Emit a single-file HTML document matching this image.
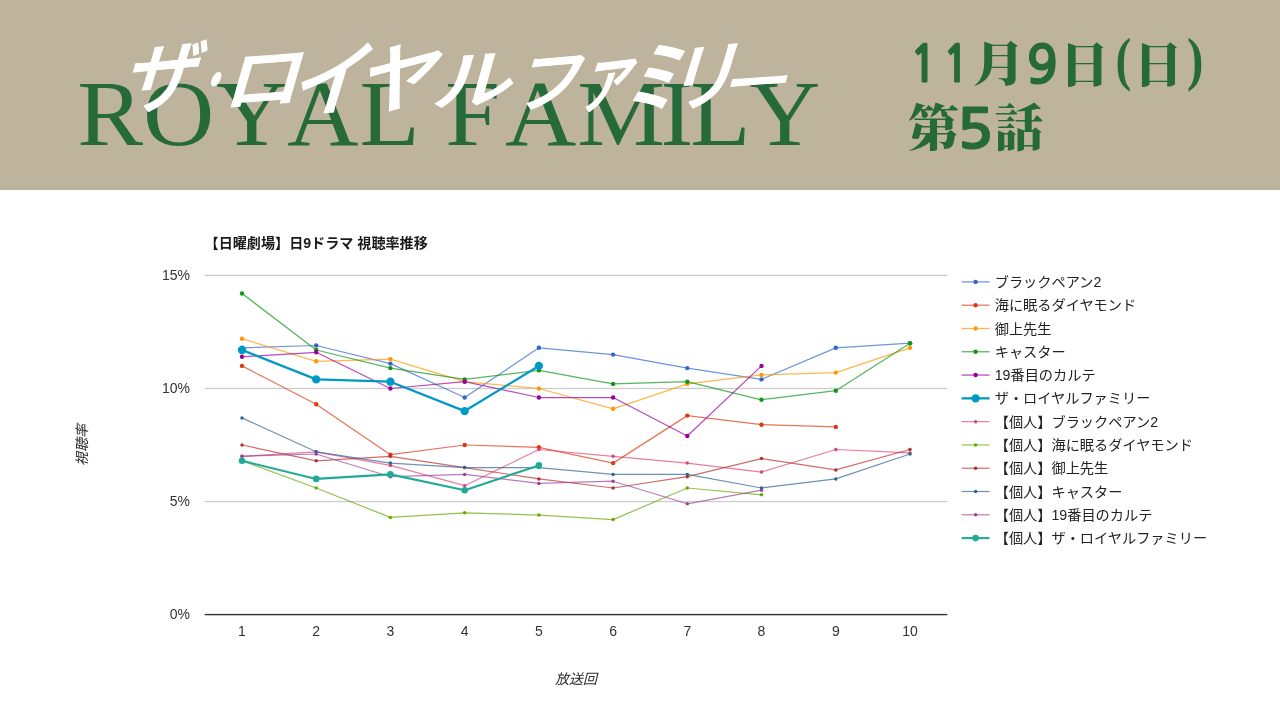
<!DOCTYPE html>
<html lang="ja">
<head>
<meta charset="utf-8">
<title>ザ・ロイヤルファミリー 第5話 視聴率推移</title>
<style>
html,body{margin:0;padding:0;}
body{width:1280px;height:720px;background:#ffffff;position:relative;overflow:hidden;font-family:"Liberation Sans","Noto Sans CJK JP",sans-serif;}
.hdr{position:absolute;left:0;top:0;width:1280px;height:190px;background:#beb49e;}
.head{position:absolute;left:0;top:0;}
.royal{font-family:"Liberation Serif",serif;font-size:94px;fill:#256a38;font-kerning:none;}
.kata{font-family:"Liberation Sans","Noto Sans CJK JP",sans-serif;font-weight:500;font-size:64px;fill:#ffffff;stroke:#ffffff;stroke-width:1px;stroke-linejoin:round;}
.date{fill:#256a38;}
.kj{font-family:"Liberation Serif","Noto Serif CJK SC",serif;font-weight:900;}
.dg{font-family:"NanumGothic","Liberation Sans",sans-serif;font-weight:700;stroke:#256a38;stroke-width:1px;stroke-linejoin:round;}
.pr{font-family:"Liberation Serif",serif;font-weight:700;}
.chart{position:absolute;left:0;top:0;}
.chart text{font-family:"Liberation Sans","Noto Sans CJK JP",sans-serif;}
.ttl{font-size:14.1px;font-weight:700;fill:#1a1a1a;}
.ax{font-size:14px;fill:#333333;}
.axt{font-size:14px;font-style:italic;fill:#2a2a2a;}
.lg{font-size:14.2px;fill:#222222;}
</style>
</head>
<body>
<div class="hdr"></div>
<svg class="head" width="1280" height="190" viewBox="0 0 1280 190">
<text class="royal" transform="scale(1.05 1)" x="73.49 136.24 205.61 273.47 342.30 404.76 424.06 480.99 549.68 628.98 657.39 713.23" y="144.8">ROYAL FAMILY</text>
<text class="kata" aria-label="ザ・ロイヤルファミリー" transform="translate(0 108) skewX(-21)"><tspan x="119.2" y="1.0" font-size="78.9" textLength="72.7" lengthAdjust="spacingAndGlyphs" rotate="-5">ザ</tspan><tspan x="189.0" y="-4.2" font-size="58.1" textLength="35.1" lengthAdjust="spacingAndGlyphs" rotate="-5">・</tspan><tspan x="220.4" y="-0.9" font-size="70.6" textLength="76.7" lengthAdjust="spacingAndGlyphs" rotate="-5">ロ</tspan><tspan x="289.1" y="5.3" font-size="81.5" textLength="75.2" lengthAdjust="spacingAndGlyphs" rotate="-5">イ</tspan><tspan x="354.7" y="2.1" font-size="78.3" textLength="77.1" lengthAdjust="spacingAndGlyphs" rotate="-5">ヤ</tspan><tspan x="429.7" y="-2.0" font-size="64.7" textLength="78.7" lengthAdjust="spacingAndGlyphs" rotate="-5">ル</tspan><tspan x="510.9" y="0.9" font-size="68.5" textLength="67.3" lengthAdjust="spacingAndGlyphs" rotate="-5">フ</tspan><tspan x="573.9" y="-0.7" font-size="77.3" textLength="54.8" lengthAdjust="spacingAndGlyphs" rotate="-5">ァ</tspan><tspan x="623.3" y="3.0" font-size="82.7" textLength="51.7" lengthAdjust="spacingAndGlyphs" rotate="-5">ミ</tspan><tspan x="662.4" y="-0.8" font-size="76.5" textLength="69.9" lengthAdjust="spacingAndGlyphs" rotate="-5">リ</tspan><tspan x="718.0" y="-3.0" font-size="56.4" textLength="65.6" lengthAdjust="spacingAndGlyphs" rotate="-5">ー</tspan></text>
<text class="date" aria-label="11月9日(日)"><tspan class="dg" x="909.6" y="81.6" font-size="50.0" textLength="28.0" lengthAdjust="spacingAndGlyphs">1</tspan><tspan class="dg" x="942.5" y="81.6" font-size="50.0" textLength="27.0" lengthAdjust="spacingAndGlyphs">1</tspan><tspan class="kj" x="972.3" y="80.8" font-size="47.9" textLength="53.8" lengthAdjust="spacingAndGlyphs">月</tspan><tspan class="dg" x="1026.6" y="83.0" font-size="52.4" textLength="31.5" lengthAdjust="spacingAndGlyphs">9</tspan><tspan class="kj" x="1059.2" y="81.8" font-size="47.6" textLength="50.0" lengthAdjust="spacingAndGlyphs">日</tspan><tspan class="pr" x="1115.5" y="78.5" font-size="59.4" textLength="15.7" lengthAdjust="spacingAndGlyphs">(</tspan><tspan class="kj" x="1133.2" y="81.8" font-size="47.6" textLength="49.5" lengthAdjust="spacingAndGlyphs">日</tspan><tspan class="pr" x="1186.9" y="78.5" font-size="59.4" textLength="16.5" lengthAdjust="spacingAndGlyphs">)</tspan></text>
<text class="date" aria-label="第5話"><tspan class="kj" x="907.9" y="145.9" font-size="49.8" textLength="51.1" lengthAdjust="spacingAndGlyphs">第</tspan><tspan class="dg" x="956.7" y="148.4" font-size="53.8" textLength="36.7" lengthAdjust="spacingAndGlyphs">5</tspan><tspan class="kj" x="994.5" y="145.9" font-size="49.8" textLength="49.0" lengthAdjust="spacingAndGlyphs">話</tspan></text>
</svg>
<svg class="chart" width="1280" height="720" viewBox="0 0 1280 720">
<rect x="204.7" y="274.76" width="742.6" height="1.3" fill="#cccccc"/>
<rect x="204.7" y="387.82" width="742.6" height="1.3" fill="#cccccc"/>
<rect x="204.7" y="500.89" width="742.6" height="1.3" fill="#cccccc"/>
<rect x="204.7" y="613.90" width="742.6" height="1.4" fill="#333333"/>
<text class="ttl" x="204.6" y="248">【日曜劇場】日9ドラマ 視聴率推移</text>
<text class="ax" x="190" y="279.6" text-anchor="end">15%</text>
<text class="ax" x="190" y="392.7" text-anchor="end">10%</text>
<text class="ax" x="190" y="505.7" text-anchor="end">5%</text>
<text class="ax" x="190" y="618.8" text-anchor="end">0%</text>
<text class="ax" x="242.0" y="636" text-anchor="middle">1</text>
<text class="ax" x="316.2" y="636" text-anchor="middle">2</text>
<text class="ax" x="390.4" y="636" text-anchor="middle">3</text>
<text class="ax" x="464.7" y="636" text-anchor="middle">4</text>
<text class="ax" x="538.9" y="636" text-anchor="middle">5</text>
<text class="ax" x="613.1" y="636" text-anchor="middle">6</text>
<text class="ax" x="687.3" y="636" text-anchor="middle">7</text>
<text class="ax" x="761.5" y="636" text-anchor="middle">8</text>
<text class="ax" x="835.8" y="636" text-anchor="middle">9</text>
<text class="ax" x="910.0" y="636" text-anchor="middle">10</text>
<text class="axt" x="576" y="684" text-anchor="middle">放送回</text>
<text class="axt" x="0" y="0" text-anchor="middle" transform="translate(87 445) rotate(-90)">視聴率</text>
<g fill="#3366cc" stroke="none"><polyline points="242.0,347.8 316.2,345.5 390.4,363.6 464.7,397.5 538.9,347.8 613.1,354.6 687.3,368.1 761.5,379.4 835.8,347.8 910.0,343.2" fill="none" stroke="#3366cc" stroke-width="1.25" stroke-opacity="0.7" stroke-linejoin="round"/>
<circle cx="242.0" cy="347.8" r="2.2"/><circle cx="316.2" cy="345.5" r="2.2"/><circle cx="390.4" cy="363.6" r="2.2"/><circle cx="464.7" cy="397.5" r="2.2"/><circle cx="538.9" cy="347.8" r="2.2"/><circle cx="613.1" cy="354.6" r="2.2"/><circle cx="687.3" cy="368.1" r="2.2"/><circle cx="761.5" cy="379.4" r="2.2"/><circle cx="835.8" cy="347.8" r="2.2"/><circle cx="910.0" cy="343.2" r="2.2"/>
</g>
<g fill="#dc3912" stroke="none"><polyline points="242.0,365.9 316.2,404.3 390.4,454.7 464.7,445.0 538.9,447.3 613.1,463.1 687.3,415.6 761.5,424.7 835.8,426.9" fill="none" stroke="#dc3912" stroke-width="1.25" stroke-opacity="0.7" stroke-linejoin="round"/>
<circle cx="242.0" cy="365.9" r="2.2"/><circle cx="316.2" cy="404.3" r="2.2"/><circle cx="390.4" cy="454.7" r="2.2"/><circle cx="464.7" cy="445.0" r="2.2"/><circle cx="538.9" cy="447.3" r="2.2"/><circle cx="613.1" cy="463.1" r="2.2"/><circle cx="687.3" cy="415.6" r="2.2"/><circle cx="761.5" cy="424.7" r="2.2"/><circle cx="835.8" cy="426.9" r="2.2"/>
</g>
<g fill="#ff9900" stroke="none"><polyline points="242.0,338.7 316.2,361.3 390.4,359.1 464.7,381.7 538.9,388.5 613.1,408.8 687.3,383.9 761.5,374.9 835.8,372.6 910.0,347.8" fill="none" stroke="#ff9900" stroke-width="1.25" stroke-opacity="0.7" stroke-linejoin="round"/>
<circle cx="242.0" cy="338.7" r="2.2"/><circle cx="316.2" cy="361.3" r="2.2"/><circle cx="390.4" cy="359.1" r="2.2"/><circle cx="464.7" cy="381.7" r="2.2"/><circle cx="538.9" cy="388.5" r="2.2"/><circle cx="613.1" cy="408.8" r="2.2"/><circle cx="687.3" cy="383.9" r="2.2"/><circle cx="761.5" cy="374.9" r="2.2"/><circle cx="835.8" cy="372.6" r="2.2"/><circle cx="910.0" cy="347.8" r="2.2"/>
</g>
<g fill="#109618" stroke="none"><polyline points="242.0,293.5 316.2,350.0 390.4,368.1 464.7,379.4 538.9,370.4 613.1,383.9 687.3,381.7 761.5,399.8 835.8,390.7 910.0,343.2" fill="none" stroke="#109618" stroke-width="1.25" stroke-opacity="0.7" stroke-linejoin="round"/>
<circle cx="242.0" cy="293.5" r="2.2"/><circle cx="316.2" cy="350.0" r="2.2"/><circle cx="390.4" cy="368.1" r="2.2"/><circle cx="464.7" cy="379.4" r="2.2"/><circle cx="538.9" cy="370.4" r="2.2"/><circle cx="613.1" cy="383.9" r="2.2"/><circle cx="687.3" cy="381.7" r="2.2"/><circle cx="761.5" cy="399.8" r="2.2"/><circle cx="835.8" cy="390.7" r="2.2"/><circle cx="910.0" cy="343.2" r="2.2"/>
</g>
<g fill="#990099" stroke="none"><polyline points="242.0,356.8 316.2,352.3 390.4,388.5 464.7,381.7 538.9,397.5 613.1,397.5 687.3,436.0 761.5,365.9" fill="none" stroke="#990099" stroke-width="1.25" stroke-opacity="0.7" stroke-linejoin="round"/>
<circle cx="242.0" cy="356.8" r="2.2"/><circle cx="316.2" cy="352.3" r="2.2"/><circle cx="390.4" cy="388.5" r="2.2"/><circle cx="464.7" cy="381.7" r="2.2"/><circle cx="538.9" cy="397.5" r="2.2"/><circle cx="613.1" cy="397.5" r="2.2"/><circle cx="687.3" cy="436.0" r="2.2"/><circle cx="761.5" cy="365.9" r="2.2"/>
</g>
<g fill="#0099c6" stroke="none"><polyline points="242.0,350.0 316.2,379.4 390.4,381.7 464.7,411.1 538.9,365.9" fill="none" stroke="#0099c6" stroke-width="2.3" stroke-opacity="1" stroke-linejoin="round"/>
<circle cx="242.0" cy="350.0" r="4.15"/><circle cx="316.2" cy="379.4" r="4.15"/><circle cx="390.4" cy="381.7" r="4.15"/><circle cx="464.7" cy="411.1" r="4.15"/><circle cx="538.9" cy="365.9" r="4.15"/>
</g>
<g fill="#dd4477" stroke="none"><polyline points="242.0,456.3 316.2,451.8 390.4,465.4 464.7,485.7 538.9,449.5 613.1,456.3 687.3,463.1 761.5,472.1 835.8,449.5 910.0,452.9" fill="none" stroke="#dd4477" stroke-width="1.2" stroke-opacity="0.7" stroke-linejoin="round"/>
<circle cx="242.0" cy="456.3" r="1.75"/><circle cx="316.2" cy="451.8" r="1.75"/><circle cx="390.4" cy="465.4" r="1.75"/><circle cx="464.7" cy="485.7" r="1.75"/><circle cx="538.9" cy="449.5" r="1.75"/><circle cx="613.1" cy="456.3" r="1.75"/><circle cx="687.3" cy="463.1" r="1.75"/><circle cx="761.5" cy="472.1" r="1.75"/><circle cx="835.8" cy="449.5" r="1.75"/><circle cx="910.0" cy="452.9" r="1.75"/>
</g>
<g fill="#66aa00" stroke="none"><polyline points="242.0,460.8 316.2,488.0 390.4,517.4 464.7,512.8 538.9,515.1 613.1,519.6 687.3,488.0 761.5,494.8" fill="none" stroke="#66aa00" stroke-width="1.2" stroke-opacity="0.7" stroke-linejoin="round"/>
<circle cx="242.0" cy="460.8" r="1.75"/><circle cx="316.2" cy="488.0" r="1.75"/><circle cx="390.4" cy="517.4" r="1.75"/><circle cx="464.7" cy="512.8" r="1.75"/><circle cx="538.9" cy="515.1" r="1.75"/><circle cx="613.1" cy="519.6" r="1.75"/><circle cx="687.3" cy="488.0" r="1.75"/><circle cx="761.5" cy="494.8" r="1.75"/>
</g>
<g fill="#b82e2e" stroke="none"><polyline points="242.0,445.0 316.2,460.8 390.4,456.3 464.7,467.6 538.9,478.9 613.1,488.0 687.3,476.7 761.5,458.6 835.8,469.9 910.0,449.5" fill="none" stroke="#b82e2e" stroke-width="1.2" stroke-opacity="0.7" stroke-linejoin="round"/>
<circle cx="242.0" cy="445.0" r="1.75"/><circle cx="316.2" cy="460.8" r="1.75"/><circle cx="390.4" cy="456.3" r="1.75"/><circle cx="464.7" cy="467.6" r="1.75"/><circle cx="538.9" cy="478.9" r="1.75"/><circle cx="613.1" cy="488.0" r="1.75"/><circle cx="687.3" cy="476.7" r="1.75"/><circle cx="761.5" cy="458.6" r="1.75"/><circle cx="835.8" cy="469.9" r="1.75"/><circle cx="910.0" cy="449.5" r="1.75"/>
</g>
<g fill="#316395" stroke="none"><polyline points="242.0,417.9 316.2,451.8 390.4,463.1 464.7,467.6 538.9,467.6 613.1,474.4 687.3,474.4 761.5,488.0 835.8,478.9 910.0,454.0" fill="none" stroke="#316395" stroke-width="1.2" stroke-opacity="0.7" stroke-linejoin="round"/>
<circle cx="242.0" cy="417.9" r="1.75"/><circle cx="316.2" cy="451.8" r="1.75"/><circle cx="390.4" cy="463.1" r="1.75"/><circle cx="464.7" cy="467.6" r="1.75"/><circle cx="538.9" cy="467.6" r="1.75"/><circle cx="613.1" cy="474.4" r="1.75"/><circle cx="687.3" cy="474.4" r="1.75"/><circle cx="761.5" cy="488.0" r="1.75"/><circle cx="835.8" cy="478.9" r="1.75"/><circle cx="910.0" cy="454.0" r="1.75"/>
</g>
<g fill="#994499" stroke="none"><polyline points="242.0,456.3 316.2,454.0 390.4,476.7 464.7,474.4 538.9,483.4 613.1,481.2 687.3,503.8 761.5,490.2" fill="none" stroke="#994499" stroke-width="1.2" stroke-opacity="0.7" stroke-linejoin="round"/>
<circle cx="242.0" cy="456.3" r="1.75"/><circle cx="316.2" cy="454.0" r="1.75"/><circle cx="390.4" cy="476.7" r="1.75"/><circle cx="464.7" cy="474.4" r="1.75"/><circle cx="538.9" cy="483.4" r="1.75"/><circle cx="613.1" cy="481.2" r="1.75"/><circle cx="687.3" cy="503.8" r="1.75"/><circle cx="761.5" cy="490.2" r="1.75"/>
</g>
<g fill="#22aa99" stroke="none"><polyline points="242.0,460.8 316.2,478.9 390.4,474.4 464.7,490.2 538.9,465.4" fill="none" stroke="#22aa99" stroke-width="2.1" stroke-opacity="1" stroke-linejoin="round"/>
<circle cx="242.0" cy="460.8" r="3.3"/><circle cx="316.2" cy="478.9" r="3.3"/><circle cx="390.4" cy="474.4" r="3.3"/><circle cx="464.7" cy="490.2" r="3.3"/><circle cx="538.9" cy="465.4" r="3.3"/>
</g>
<g><rect x="961.6" y="281.27" width="28" height="1.25" fill="#3366cc" fill-opacity="0.7"/><circle cx="975.6" cy="281.90" r="2.2" fill="#3366cc"/><text class="lg" x="994.7" y="286.9">ブラックペアン2</text></g>
<g><rect x="961.6" y="304.56" width="28" height="1.25" fill="#dc3912" fill-opacity="0.7"/><circle cx="975.6" cy="305.19" r="2.2" fill="#dc3912"/><text class="lg" x="994.7" y="310.2">海に眠るダイヤモンド</text></g>
<g><rect x="961.6" y="327.85" width="28" height="1.25" fill="#ff9900" fill-opacity="0.7"/><circle cx="975.6" cy="328.48" r="2.2" fill="#ff9900"/><text class="lg" x="994.7" y="333.5">御上先生</text></g>
<g><rect x="961.6" y="351.14" width="28" height="1.25" fill="#109618" fill-opacity="0.7"/><circle cx="975.6" cy="351.77" r="2.2" fill="#109618"/><text class="lg" x="994.7" y="356.8">キャスター</text></g>
<g><rect x="961.6" y="374.43" width="28" height="1.25" fill="#990099" fill-opacity="0.7"/><circle cx="975.6" cy="375.06" r="2.2" fill="#990099"/><text class="lg" x="994.7" y="380.1">19番目のカルテ</text></g>
<g><rect x="961.6" y="397.20" width="28" height="2.3" fill="#0099c6" fill-opacity="1"/><circle cx="975.6" cy="398.35" r="4.15" fill="#0099c6"/><text class="lg" x="994.7" y="403.3">ザ・ロイヤルファミリー</text></g>
<g><rect x="961.6" y="421.04" width="28" height="1.2" fill="#dd4477" fill-opacity="0.7"/><circle cx="975.6" cy="421.64" r="1.75" fill="#dd4477"/><text class="lg" x="994.7" y="426.6">【個人】ブラックペアン2</text></g>
<g><rect x="961.6" y="444.33" width="28" height="1.2" fill="#66aa00" fill-opacity="0.7"/><circle cx="975.6" cy="444.93" r="1.75" fill="#66aa00"/><text class="lg" x="994.7" y="449.9">【個人】海に眠るダイヤモンド</text></g>
<g><rect x="961.6" y="467.62" width="28" height="1.2" fill="#b82e2e" fill-opacity="0.7"/><circle cx="975.6" cy="468.22" r="1.75" fill="#b82e2e"/><text class="lg" x="994.7" y="473.2">【個人】御上先生</text></g>
<g><rect x="961.6" y="490.91" width="28" height="1.2" fill="#316395" fill-opacity="0.7"/><circle cx="975.6" cy="491.51" r="1.75" fill="#316395"/><text class="lg" x="994.7" y="496.5">【個人】キャスター</text></g>
<g><rect x="961.6" y="514.20" width="28" height="1.2" fill="#994499" fill-opacity="0.7"/><circle cx="975.6" cy="514.80" r="1.75" fill="#994499"/><text class="lg" x="994.7" y="519.8">【個人】19番目のカルテ</text></g>
<g><rect x="961.6" y="537.04" width="28" height="2.1" fill="#22aa99" fill-opacity="1"/><circle cx="975.6" cy="538.09" r="3.3" fill="#22aa99"/><text class="lg" x="994.7" y="543.1">【個人】ザ・ロイヤルファミリー</text></g>
</svg>
</body>
</html>
